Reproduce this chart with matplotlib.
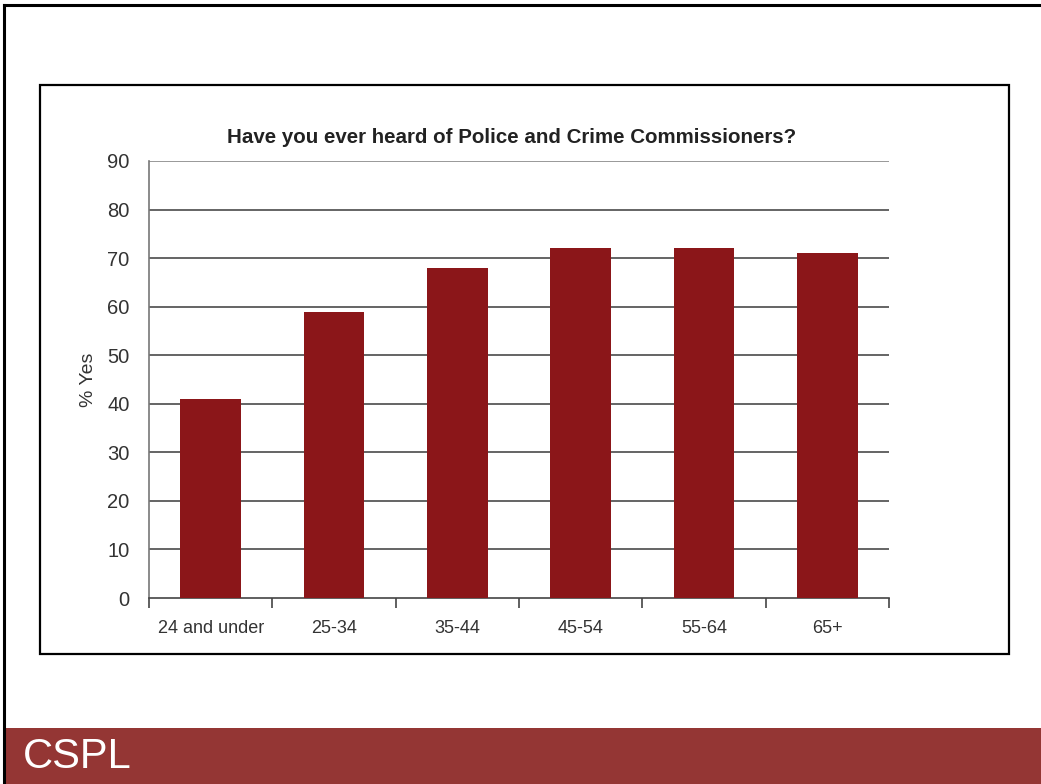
import matplotlib.pyplot as plt
import matplotlib.patches as patches
import numpy as np

# data
ages = ['24 and under', '25-34', '35-44', '45-54', '55-64', '65+']
pct_yes = [41, 59, 68, 72, 72, 71]
yticks = [0, 10, 20, 30, 40, 50, 60, 70, 80, 90]

plt.rcParams['font.family'] = ['Liberation Sans', 'DejaVu Sans']

fig = plt.figure(figsize=(10.41, 7.84), dpi=100)

# slide frame, inner chart box and bottom band (figure coords)
W, H = 1041.0, 784.0
fig.add_artist(plt.Line2D([4 / W, 1.0], [1 - 5 / H, 1 - 5 / H], color='black', lw=2.2))
fig.add_artist(plt.Line2D([4 / W, 4 / W], [0, 1 - 5 / H], color='black', lw=2.2))
fig.add_artist(patches.Rectangle((40 / W, 1 - 654 / H), (1009 - 40) / W, (654 - 85) / H,
                                 fill=False, edgecolor='black', lw=1.6, transform=fig.transFigure))
fig.add_artist(patches.Rectangle((5 / W, 0), 1 - 5 / W, (784 - 728) / H,
                                 facecolor='#943634', edgecolor='none', transform=fig.transFigure))
fig.text(23 / W, 1 - 757 / H, 'CSPL', color='white', fontsize=30, va='center', ha='left')

ax = fig.add_axes([149 / W, 1 - 598 / H, (889 - 149) / W, (598 - 161) / H])
x = np.arange(len(ages))
ax.bar(x, pct_yes, width=0.49, color='#8b1619', zorder=3)

ax.set_xlim(-0.5, len(ages) - 0.5)
ax.set_ylim(0, 90)
ax.set_yticks(yticks)
ax.set_yticklabels([str(t) for t in yticks], fontsize=14.5, color='#333333')
for t in yticks[1:]:
    ax.axhline(t, color='#888888' if t == 90 else '#4a4a4a', lw=1.2, zorder=1)
ax.tick_params(axis='y', length=0, pad=14)

ax.set_xticks(x)
ax.set_xticklabels(ages, fontsize=13, color='#333333')
ax.set_xticks(np.arange(-0.5, len(ages)), minor=True)
ax.tick_params(axis='x', which='major', length=0, pad=16)
ax.tick_params(axis='x', which='minor', length=7.5, width=1.2, color='#444444', direction='out')

for s in ['top', 'right']:
    ax.spines[s].set_visible(False)
ax.spines['left'].set_color('#777777')
ax.spines['left'].set_linewidth(1.2)
ax.spines['bottom'].set_color('#444444')
ax.spines['bottom'].set_linewidth(1.2)

ax.set_ylabel('% Yes', fontsize=14, color='#333333', labelpad=7)
ax.set_title('Have you ever heard of Police and Crime Commissioners?',
             fontsize=14.8, fontweight='bold', color='#222222', pad=13, x=0.49)

plt.savefig('out.png', dpi=100)
